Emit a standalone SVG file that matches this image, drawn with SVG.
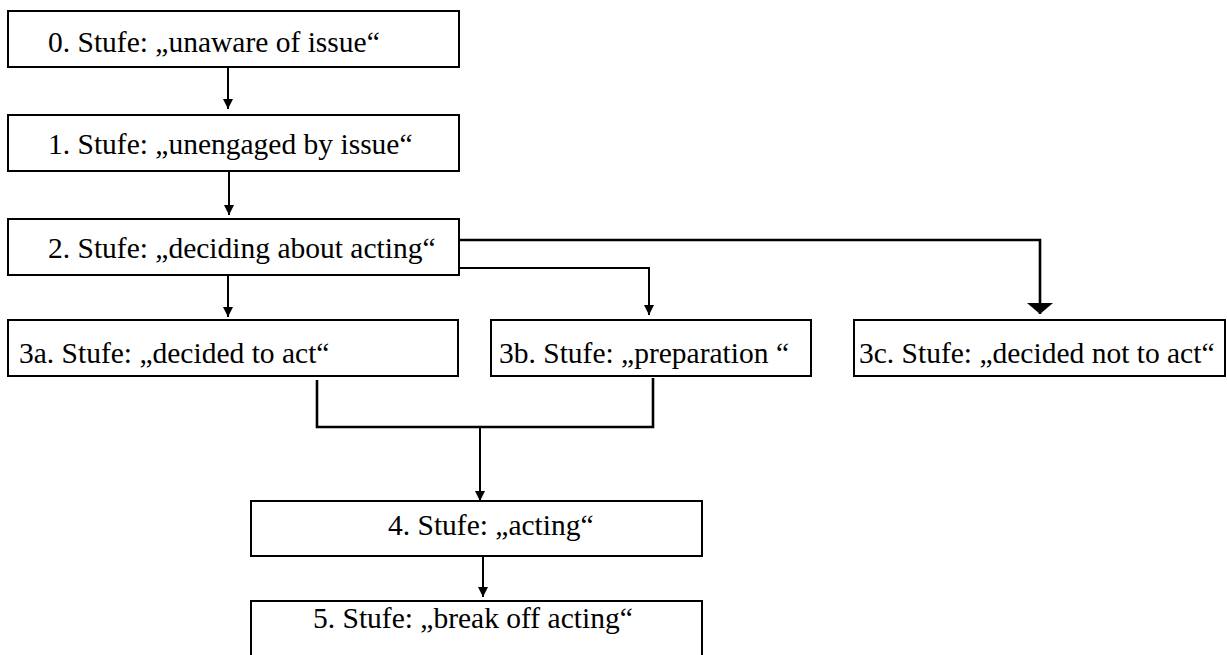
<svg xmlns="http://www.w3.org/2000/svg" width="1227" height="655" viewBox="0 0 1227 655">
<style>
.box{fill:#fff;stroke:#000;stroke-width:2}
.lbl{font-family:"Liberation Serif","Times New Roman",serif;font-size:29.5px;fill:#000}
.con{fill:none;stroke:#000;stroke-width:2}
.thick{stroke-width:2.6}
</style>
<defs>
<marker id="ah" markerUnits="userSpaceOnUse" viewBox="0 0 10 10" refX="10" refY="5" markerWidth="10" markerHeight="10" orient="auto"><path d="M0,0 L10,5 L0,10 z" fill="#000"/></marker>
<marker id="ahBig" markerUnits="userSpaceOnUse" viewBox="0 0 11 26" refX="11" refY="13" markerWidth="11" markerHeight="26" orient="auto"><path d="M0,0 L11,13 L0,26 z" fill="#000"/></marker>
</defs>
<rect width="1227" height="655" fill="#fff"/>
<g id="connectors">
<path class="con" d="M228,67 V109" marker-end="url(#ah)"/>
<path class="con" d="M229,171 V215" marker-end="url(#ah)"/>
<path class="con" d="M228,275 V317" marker-end="url(#ah)"/>
<path class="con" d="M459,268 H649 V315" marker-end="url(#ah)"/>
<path class="con thick" d="M459,240 H1040 V314" marker-end="url(#ahBig)"/>
<path class="con thick" d="M317,380 V427 H653 V378"/>
<path class="con" d="M480,427 V501" marker-end="url(#ah)"/>
<path class="con" d="M483,556 V597" marker-end="url(#ah)"/>
</g>
<g id="n0"><rect class="box" x="8" y="11" width="451" height="56"/><text class="lbl" x="48" y="52">0. Stufe: „unaware of issue“</text></g>
<g id="n1"><rect class="box" x="8" y="115" width="451" height="56"/><text class="lbl" x="48" y="154">1. Stufe: „unengaged by issue“</text></g>
<g id="n2"><rect class="box" x="8" y="219" width="451" height="56"/><text class="lbl" x="48" y="258">2. Stufe: „deciding about acting“</text></g>
<g id="n3a"><rect class="box" x="8" y="320" width="450" height="56"/><text class="lbl" x="19" y="363">3a. Stufe: „decided to act“</text></g>
<g id="n3b"><rect class="box" x="491" y="320" width="320" height="56"/><text class="lbl" x="499" y="363">3b. Stufe: „preparation “</text></g>
<g id="n3c"><rect class="box" x="854" y="320" width="371" height="56"/><text class="lbl" x="859" y="363">3c. Stufe: „decided not to act“</text></g>
<g id="n4"><rect class="box" x="251" y="501" width="451" height="55"/><text class="lbl" x="388" y="535">4. Stufe: „acting“</text></g>
<g id="n5"><rect class="box" x="251" y="601" width="451" height="70"/><text class="lbl" x="313" y="628">5. Stufe: „break off acting“</text></g>
</svg>
